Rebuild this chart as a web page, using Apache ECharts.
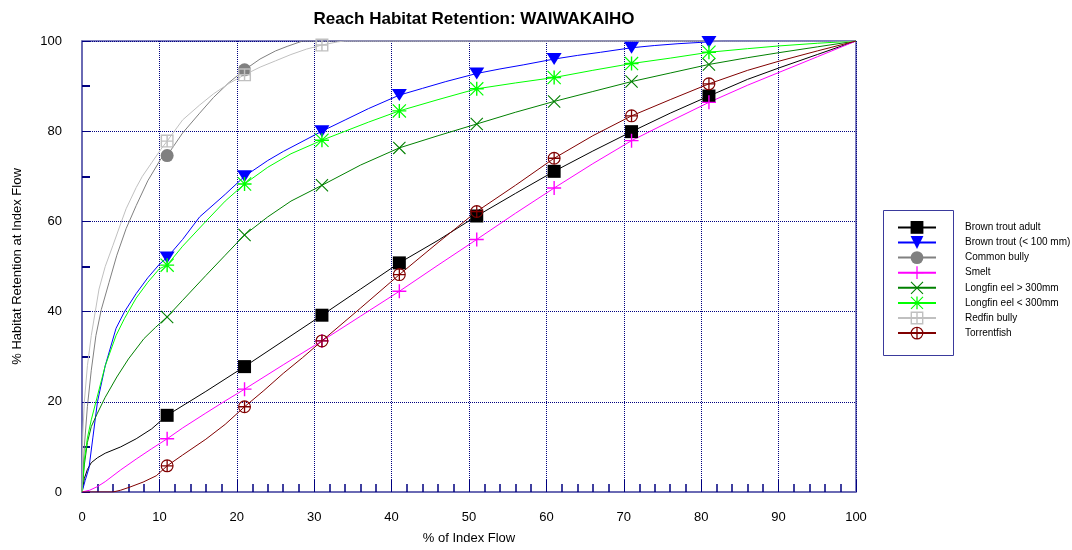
<!DOCTYPE html>
<html>
<head>
<meta charset="utf-8">
<title>Reach Habitat Retention: WAIWAKAIHO</title>
<script src="https://cdn.jsdelivr.net/npm/echarts@6/dist/echarts.min.js"></script>
<style>
  html, body { margin: 0; padding: 0; background: #ffffff; }
  #chart { width: 1072px; height: 550px; }
</style>
</head>
<body>
<div id="chart"></div>
<script>
// x = % of index flow, y = % habitat retention
const seriesNames = [
  'Brown trout adult', 'Brown trout (< 100 mm)', 'Common bully', 'Smelt',
  'Longfin eel > 300mm', 'Longfin eel < 300mm', 'Redfin bully', 'Torrentfish'
];
const markerX = [11, 21, 31, 41, 51, 61, 71, 81];

const btAdultX = [0, 0.3, 0.7, 1.2, 2, 3, 5, 7, 9, 11, 16, 21, 26, 31, 36, 41, 46, 51, 56, 61, 66, 71, 76, 81, 86, 90, 95, 100];
const btAdultY = [0, 3, 5, 6.5, 7.6, 8.6, 10, 11.8, 14, 17, 22.3, 27.8, 33.5, 39.2, 45, 50.8, 55.8, 61.2, 66.2, 71.1, 75.6, 79.9, 84, 87.8, 91.5, 94, 97, 100];

const btJuvX = [0, 0.4, 0.9, 1.4, 2, 3, 4.4, 5.5, 7, 8.5, 10, 11, 13, 15.2, 18.5, 21, 24, 26, 31, 34, 37, 41, 44, 47, 51, 54, 57, 61, 64, 67, 71, 74, 77, 81, 83, 90, 100];
const btJuvY = [0, 2.5, 5.3, 12, 20, 28, 36.3, 40, 44, 47.5, 50.5, 52, 56, 61, 66, 70, 73.5, 75.5, 80, 82.5, 85, 88, 89.5, 91, 92.8, 93.8, 94.7, 96, 96.8, 97.5, 98.5, 99, 99.4, 99.8, 100, 100, 100];

const commonBullyX = [0, 0.3, 0.7, 1.2, 1.8, 2.5, 3.5, 4.5, 5.7, 7, 8.5, 10.2, 11, 13, 15.2, 17, 19, 21, 23, 25, 26.5, 28.5, 100];
const commonBullyY = [0, 10, 19, 27, 34.7, 40.5, 46.5, 52.5, 58.4, 63.5, 69, 73.9, 74.6, 79.6, 84, 87.5, 90.8, 93.6, 96, 97.8, 98.8, 100, 100];

const smeltX = [0, 1, 2, 3, 5, 7, 9, 11, 13, 16, 18.5, 21, 26, 31, 36, 41, 46, 51, 56, 61, 66, 71, 76, 81, 86, 90, 95, 100];
const smeltY = [0, 0.4, 1.2, 2.3, 4.9, 7.3, 9.6, 11.8, 14.2, 17.5, 20.2, 22.8, 28.2, 33.5, 39, 44.5, 50.3, 56, 61.8, 67.4, 72.8, 77.9, 82.2, 86.4, 90.2, 93, 96.5, 100];

const eelLargeX = [0, 0.3, 0.7, 1.2, 2, 3, 4.5, 6, 8, 9.5, 11, 13, 16, 18.5, 21, 24, 27, 31, 36, 41, 46, 51, 56, 61, 66, 71, 76, 81, 86, 90, 95, 100];
const eelLargeY = [0, 6, 11, 14.5, 17.5, 21, 25.5, 29.5, 34, 36.5, 38.8, 42.5, 48, 52.5, 57, 61, 64.5, 68, 72.5, 76.3, 79, 81.6, 84.2, 86.6, 88.8, 91, 92.9, 94.8, 96.3, 97.4, 98.7, 100];

const eelSmallX = [0, 0.3, 0.7, 1.2, 1.8, 3, 4.4, 5.5, 7, 8.5, 10, 11, 13, 16, 18.5, 21, 24, 27, 31, 34, 37, 41, 46, 51, 56, 61, 66, 71, 76, 81, 86, 90, 95, 100];
const eelSmallY = [0, 7, 12, 16, 20, 28, 34.7, 38.5, 43, 46.5, 49.5, 50.3, 54.5, 60, 64.5, 68.3, 72, 75, 78, 80, 82, 84.5, 87, 89.4, 90.7, 91.9, 93.5, 95, 96.2, 97.5, 98.3, 98.9, 99.5, 100];

const redfinX = [0, 0.1, 0.3, 0.7, 1.2, 2.2, 3, 4, 5, 5.7, 7, 7.8, 9, 10.2, 11, 13, 15.2, 17, 19, 21, 23, 25, 27, 29, 31, 33, 34, 100];
const redfinY = [0, 12.6, 20, 28, 34.7, 45, 50, 54.7, 59.5, 62.8, 67.5, 70, 73, 76, 77.8, 82.5, 85.8, 88.3, 90.6, 92.5, 94.2, 95.6, 97, 98.2, 99.1, 99.8, 100, 100];

const torrentX = [0, 4, 5, 6.2, 7.9, 9.6, 11, 13, 16, 18.5, 21, 23.5, 26, 28.5, 31, 36, 41, 46, 51, 56, 61, 66, 71, 76, 81, 86, 90, 95, 100];
const torrentY = [0, 0, 0.4, 1.1, 2.2, 3.6, 5.8, 8.2, 11.7, 15, 18.9, 22.5, 26.3, 29.8, 33.5, 40.8, 48.2, 55.3, 62.2, 68, 74, 79, 83.4, 87, 90.5, 93.5, 95.5, 97.8, 100];

const xTicks = [0, 10, 20, 30, 40, 50, 60, 70, 80, 90, 100];
const yTicks = [0, 20, 40, 60, 80, 100];

// marker glyphs
const SYM_TRI = 'path://M0,0H10L5,9Z';
const SYM_PLUS = 'path://M4.5,0H5.5V4.5H10V5.5H5.5V10H4.5V5.5H0V4.5H4.5Z';
const SYM_X = 'path://M0,0.6L0.6,0L10,9.4L9.4,10Z M9.4,0L10,0.6L0.6,10L0,9.4Z';
const SYM_STAR = SYM_PLUS + ' M0,0.6L0.6,0L10,9.4L9.4,10Z M9.4,0L10,0.6L0.6,10L0,9.4Z';
const SYM_BOXCROSS = 'path://M0,0H10V10H0Z M1.1,1.1V4.45H4.45V1.1Z M5.55,1.1V4.45H8.9V1.1Z M1.1,5.55V8.9H4.45V5.55Z M5.55,5.55V8.9H8.9V5.55Z';
const SYM_CIRCLECROSS = 'path://M0,5A5,5 0 1,1 10,5A5,5 0 1,1 0,5Z M0.9,5A4.1,4.1 0 1,0 9.1,5A4.1,4.1 0 1,0 0.9,5Z M4.5,0.5H5.5V9.5H4.5Z M0.5,4.5H9.5V5.5H0.5Z';

const FONT = '"Liberation Sans", Arial, sans-serif';
const NAVY = '#000080';
const AXIS_BLUE = '#6a6ab4';

function build(xs, ys, marks) {
  return xs.map((x, i) => marks.includes(x) ? [x, ys[i]] : { value: [x, ys[i]], symbol: 'none' });
}

function line(name, color, xs, ys, symbol, size, marks) {
  return {
    name: name,
    type: 'line',
    color: color,
    symbol: symbol,
    symbolSize: size,
    showSymbol: true,
    lineStyle: { color: color, width: 1 },
    itemStyle: { color: color },
    emphasis: { disabled: true },
    data: build(xs, ys, marks)
  };
}

const chart = echarts.init(document.getElementById('chart'));

const option = {
  animation: false,
  backgroundColor: '#ffffff',
  title: {
    text: 'Reach Habitat Retention: WAIWAKAIHO',
    left: 469,
    textAlign: 'center',
    top: 6,
    textStyle: { fontFamily: FONT, fontSize: 17, fontWeight: 'bold', color: '#000' }
  },
  grid: {
    left: 82, right: 216, top: 41, bottom: 57,
    show: true, borderColor: NAVY, borderWidth: 1, backgroundColor: 'transparent'
  },
  legend: {
    orient: 'vertical',
    left: 892,
    top: 216,
    itemWidth: 38,
    itemHeight: 16,
    itemGap: 2.3,
    selectedMode: false,
    lineStyle: { width: 2 },
    textStyle: { fontFamily: FONT, fontSize: 10, color: '#000', padding: [0, 0, 0, 24] },
    data: seriesNames
  },
  graphic: [{
    type: 'rect',
    left: 881, top: 208,
    shape: { width: 70, height: 145 },
    style: { fill: 'none', stroke: '#3a3a9c', lineWidth: 1 },
    silent: true
  }],
  xAxis: {
    type: 'value',
    min: xTicks[0], max: xTicks[xTicks.length - 1], interval: 10,
    name: '% of Index Flow',
    nameLocation: 'middle',
    nameGap: 40,
    nameTextStyle: { fontFamily: FONT, fontSize: 13, color: '#000' },
    axisLine: { show: true, lineStyle: { color: AXIS_BLUE, width: 2 } },
    axisTick: { show: true, inside: true, length: 12, lineStyle: { color: NAVY, width: 1 } },
    minorTick: { show: true, splitNumber: 5, length: 8, lineStyle: { color: NAVY, width: 1.5 } },
    splitLine: { show: true, lineStyle: { color: NAVY, width: 1, type: 'dotted' } },
    axisLabel: { fontFamily: FONT, fontSize: 13, color: '#000', margin: 19 }
  },
  yAxis: {
    type: 'value',
    min: yTicks[0], max: yTicks[yTicks.length - 1], interval: 20,
    name: '% Habitat Retention at Index Flow',
    nameLocation: 'middle',
    nameGap: 58,
    nameTextStyle: { fontFamily: FONT, fontSize: 13, color: '#000' },
    axisLine: { show: true, lineStyle: { color: AXIS_BLUE, width: 2 } },
    axisTick: { show: true, inside: true, length: 8, lineStyle: { color: NAVY, width: 1 } },
    minorTick: { show: true, splitNumber: 2, length: 8, lineStyle: { color: NAVY, width: 2 } },
    splitLine: { show: true, lineStyle: { color: NAVY, width: 1, type: 'dotted' } },
    axisLabel: { fontFamily: FONT, fontSize: 13, color: '#000', margin: 20 }
  },
  series: [
    line(seriesNames[0], '#000000', btAdultX, btAdultY, 'rect', 13, markerX),
    line(seriesNames[1], '#0000ff', btJuvX, btJuvY, SYM_TRI, [15, 12], markerX),
    line(seriesNames[2], '#808080', commonBullyX, commonBullyY, 'circle', 13, [11, 21]),
    line(seriesNames[3], '#ff00ff', smeltX, smeltY, SYM_PLUS, 14, markerX),
    line(seriesNames[4], '#008000', eelLargeX, eelLargeY, SYM_X, 13, markerX),
    line(seriesNames[5], '#00ff00', eelSmallX, eelSmallY, SYM_STAR, 14, markerX),
    line(seriesNames[6], '#c0c0c0', redfinX, redfinY, SYM_BOXCROSS, 13, [11, 21, 31]),
    line(seriesNames[7], '#800000', torrentX, torrentY, SYM_CIRCLECROSS, 13, markerX)
  ]
};

chart.setOption(option);

window.addEventListener('resize', () => {
  chart.resize();
});
</script>
</body>
</html>
